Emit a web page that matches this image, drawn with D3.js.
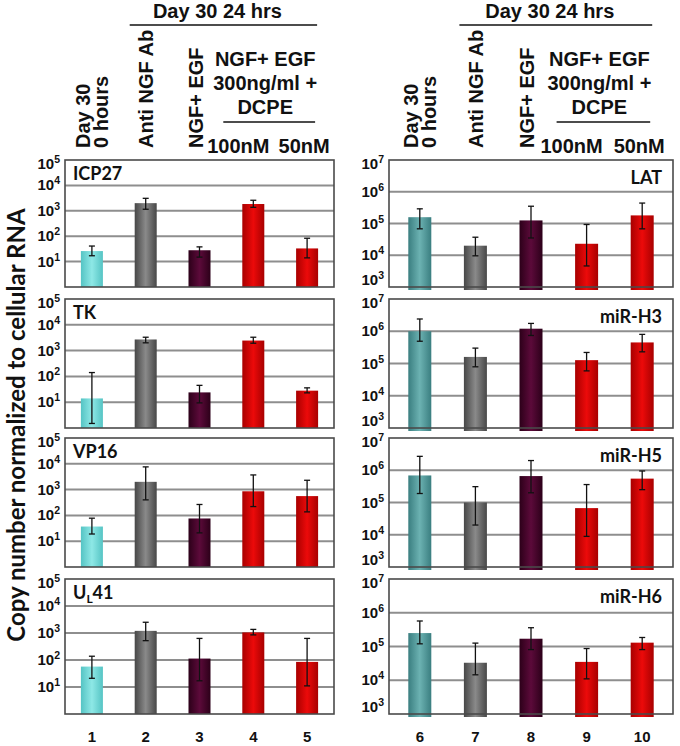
<!DOCTYPE html>
<html>
<head>
<meta charset="utf-8">
<script src="https://cdn.jsdelivr.net/npm/d3@7"></script>
<style>
  body { margin: 0; background: #fff; }
  svg { display: block; }
</style>
</head>
<body>
<svg id="chart" width="680" height="746"></svg>
<script>
// lanes and ticks
const lanesLeft = ['1', '2', '3', '4', '5'];
const lanesRight = ['6', '7', '8', '9', '10'];
const ticksLeft = [1e1, 1e2, 1e3, 1e4, 1e5];
const ticksRight = [1e3, 1e4, 1e5, 1e6, 1e7];

// lytic genes (left column)
const icp27 = [26, 2000, 28, 1850, 33];
const icp27Lo = [17, 1150, 15, 1370, 14];
const icp27Hi = [41, 3100, 38, 2600, 83];
const tk = [14, 2700, 24, 2450, 28];
const tkLo = [1.5, 2000, 9.4, 1930, 23];
const tkHi = [141, 3300, 45, 3300, 36];
const vp16 = [37, 2000, 76, 860, 560];
const vp16Lo = [19, 400, 21, 220, 137];
const vp16Hi = [78, 7600, 265, 3700, 2300];
const ul41 = [57, 1200, 113, 1050, 85];
const ul41Lo = [21, 520, 17, 850, 11];
const ul41Hi = [138, 2500, 630, 1360, 630];

// LAT and miRNAs (right column)
const lat = [1.58e5, 2.0e4, 1.25e5, 2.3e4, 1.8e5];
const latLo = [6.8e4, 9.6e3, 3.5e4, 4.6e3, 6.8e4];
const latHi = [2.9e5, 3.7e4, 3.5e5, 9.3e4, 4.4e5];
const mirH3 = [1.0e6, 1.6e5, 1.2e6, 1.27e5, 4.5e5];
const mirH3Lo = [4.9e5, 7.9e4, 7.4e5, 5.9e4, 2.3e5];
const mirH3Hi = [2.4e6, 3.0e5, 1.75e6, 2.2e5, 8.0e5];
const mirH5 = [6.9e5, 1.0e5, 6.6e5, 6.7e4, 5.5e5];
const mirH5Lo = [1.9e5, 2.0e4, 2.0e5, 8.9e3, 2.5e5];
const mirH5Hi = [2.7e6, 3.1e5, 2.0e6, 3.6e5, 9.5e5];
const mirH6 = [2.5e5, 3.3e4, 1.7e5, 3.5e4, 1.3e5];
const mirH6Lo = [1.2e5, 1.45e4, 8.1e4, 1.1e4, 8.1e4];
const mirH6Hi = [5.7e5, 1.26e5, 3.6e5, 8.7e4, 1.85e5];

const leftPanels = [
  {name: 'ICP27', v: icp27, lo: icp27Lo, hi: icp27Hi},
  {name: 'TK', v: tk, lo: tkLo, hi: tkHi},
  {name: 'VP16', v: vp16, lo: vp16Lo, hi: vp16Hi},
  {name: 'UL41', v: ul41, lo: ul41Lo, hi: ul41Hi}
];
const rightPanels = [
  {name: 'LAT', v: lat, lo: latLo, hi: latHi},
  {name: 'miR-H3', v: mirH3, lo: mirH3Lo, hi: mirH3Hi},
  {name: 'miR-H5', v: mirH5, lo: mirH5Lo, hi: mirH5Hi},
  {name: 'miR-H6', v: mirH6, lo: mirH6Lo, hi: mirH6Hi}
];

const rowTop = [160, 299, 438, 579];
const rowBot = [287, 428, 567, 714];
const arial = 'Liberation Sans, Arial, sans-serif';
const calibri = 'Lato, Open Sans, sans-serif';

const svg = d3.select('#chart');
const defs = svg.append('defs');

// bar fills: dark edges, light middle
const fills = {
  cyan: ['#55c4c4', '#8ee8e6'],
  teal: ['#3a7e80', '#6cb2b2'],
  gray: ['#474747', '#8a8a8a'],
  maroon: ['#2c0019', '#5c0a3a'],
  red: ['#a80000', '#ec0a0a']
};
Object.keys(fills).forEach(k => {
  const g = defs.append('linearGradient').attr('id', 'g-' + k)
    .attr('x1', '0%').attr('x2', '100%').attr('y1', '0%').attr('y2', '0%');
  g.append('stop').attr('offset', '0%').attr('stop-color', fills[k][0]);
  g.append('stop').attr('offset', '50%').attr('stop-color', fills[k][1]);
  g.append('stop').attr('offset', '100%').attr('stop-color', fills[k][0]);
});
const colorsLeft = ['cyan', 'gray', 'maroon', 'red', 'red'];
const colorsRight = ['teal', 'gray', 'maroon', 'red', 'red'];

const sides = [
  {panels: leftPanels, lanes: lanesLeft, ticks: ticksLeft, domain: [1, 1e5],
   box: [65, 334], range: [65, 334], colors: colorsLeft, barW: 22, overhang: 0, labelLeft: true},
  {panels: rightPanels, lanes: lanesRight, ticks: ticksRight, domain: [1e3, 1e7],
   box: [389, 673], range: [392, 670], colors: colorsRight, barW: 23, overhang: 3, labelLeft: false}
];

sides.forEach(side => {
  const x = d3.scalePoint().domain(side.lanes).range(side.range).padding(0.5);

  side.panels.forEach((p, r) => {
    const y = d3.scaleLog().domain(side.domain).range([rowBot[r], rowTop[r]]);
    const g = svg.append('g');
    const [x0, x1] = side.box;

    g.append('rect')
      .attr('x', x0).attr('y', rowTop[r])
      .attr('width', x1 - x0).attr('height', rowBot[r] - rowTop[r])
      .attr('fill', '#fff');

    // grid lines
    g.selectAll('.grid')
      .data(side.ticks.filter(t => t > side.domain[0] && t < side.domain[1]))
      .enter().append('line')
      .attr('x1', x0).attr('x2', x1)
      .attr('y1', d => y(d)).attr('y2', d => y(d))
      .attr('stroke', '#8e8e8e').attr('stroke-width', 2);

    // tick labels 10^n, kept inside the panel height
    const tl = g.selectAll('.tick')
      .data(side.ticks)
      .enter().append('text')
      .attr('x', x0 - 5)
      .attr('y', d => Math.min(Math.max(y(d), rowTop[r] + 4), rowBot[r] - 7) + 5)
      .attr('text-anchor', 'end')
      .attr('font-family', arial).attr('font-weight', 'bold')
      .attr('font-size', 15).attr('fill', '#111');
    tl.append('tspan').text('10');
    tl.append('tspan').attr('dy', -6).attr('font-size', 10.5)
      .text(d => Math.round(Math.log10(d)));

    // bars
    const rows = side.lanes.map((l, i) => ({lane: l, v: p.v[i], lo: p.lo[i], hi: p.hi[i], c: side.colors[i]}));
    g.selectAll('.bar')
      .data(rows)
      .enter().append('rect')
      .attr('x', d => x(d.lane) - side.barW / 2)
      .attr('y', d => y(d.v))
      .attr('width', side.barW)
      .attr('height', d => rowBot[r] - y(d.v) + side.overhang)
      .attr('fill', d => 'url(#g-' + d.c + ')');

    // error bars
    const eb = g.selectAll('.err').data(rows).enter().append('g')
      .attr('stroke', '#111').attr('stroke-width', 1.3);
    eb.append('line')
      .attr('x1', d => x(d.lane)).attr('x2', d => x(d.lane))
      .attr('y1', d => y(d.hi)).attr('y2', d => y(d.lo));
    eb.append('line')
      .attr('x1', d => x(d.lane) - 3).attr('x2', d => x(d.lane) + 3)
      .attr('y1', d => y(d.hi)).attr('y2', d => y(d.hi));
    eb.append('line')
      .attr('x1', d => x(d.lane) - 3).attr('x2', d => x(d.lane) + 3)
      .attr('y1', d => y(d.lo)).attr('y2', d => y(d.lo));

    g.append('rect')
      .attr('x', x0).attr('y', rowTop[r])
      .attr('width', x1 - x0).attr('height', rowBot[r] - rowTop[r])
      .attr('fill', 'none').attr('stroke', '#4a4a4a').attr('stroke-width', 1.6);

    // panel name
    const lab = g.append('text')
      .attr('font-family', calibri).attr('font-weight', 'bold')
      .attr('font-size', 18).attr('fill', '#111');
    if (side.labelLeft) {
      lab.attr('x', x0 + 8).attr('y', rowTop[r] + 20);
    } else {
      lab.attr('x', x1 - 11).attr('y', rowTop[r] + 24).attr('text-anchor', 'end');
    }
    if (p.name === 'UL41') {
      lab.append('tspan').text('U');
      lab.append('tspan').attr('font-size', 12).attr('dy', 4).text('L');
      lab.append('tspan').attr('dy', -4).text('41');
    } else {
      lab.text(p.name);
    }
  });

  // lane numbers
  svg.append('g').selectAll('text')
    .data(side.lanes)
    .enter().append('text')
    .attr('x', d => x(d)).attr('y', 742)
    .attr('text-anchor', 'middle')
    .attr('font-family', arial).attr('font-weight', 'bold')
    .attr('font-size', 15).attr('fill', '#111')
    .text(d => d);

  // header
  const L = side.lanes;
  const h = svg.append('g')
    .attr('font-family', arial).attr('font-weight', 'bold').attr('fill', '#111');
  const lineX0 = x(L[1]) - 16, lineX1 = x(L[4]) + 10;
  h.append('text').attr('x', (lineX0 + lineX1) / 2 - 6).attr('y', 18)
    .attr('text-anchor', 'middle').attr('font-size', 20).text('Day 30 24 hrs');
  h.append('line').attr('x1', lineX0).attr('x2', lineX1).attr('y1', 25).attr('y2', 25)
    .attr('stroke', '#111').attr('stroke-width', 1.6);

  const rot = (cx, txt) => h.append('text')
    .attr('transform', `translate(${cx},148) rotate(-90)`)
    .attr('font-size', 20).attr('dy', '0.36em').text(txt);
  rot(x(L[0]) - 9, 'Day 30');
  rot(x(L[0]) + 9, '0 hours');
  rot(x(L[1]), 'Anti NGF Ab');
  rot(x(L[2]) - 4, 'NGF+ EGF');

  const mid = (x(L[3]) + x(L[4])) / 2 - 15;
  h.append('text').attr('x', mid).attr('y', 66).attr('text-anchor', 'middle')
    .attr('font-size', 20).text('NGF+ EGF');
  h.append('text').attr('x', mid).attr('y', 90).attr('text-anchor', 'middle')
    .attr('font-size', 20).text('300ng/ml +');
  h.append('text').attr('x', mid).attr('y', 114).attr('text-anchor', 'middle')
    .attr('font-size', 20).text('DCPE');
  h.append('line').attr('x1', x(L[3]) - 30).attr('x2', x(L[4]) + 8)
    .attr('y1', 122).attr('y2', 122).attr('stroke', '#111').attr('stroke-width', 1.6);
  h.append('text').attr('x', x(L[3]) - 15).attr('y', 153).attr('text-anchor', 'middle')
    .attr('font-size', 20).text('100nM');
  h.append('text').attr('x', x(L[4]) - 3).attr('y', 153).attr('text-anchor', 'middle')
    .attr('font-size', 20).text('50nM');
});

// shared y title
svg.append('text')
  .attr('transform', 'translate(25,425) rotate(-90)')
  .attr('text-anchor', 'middle')
  .attr('font-family', calibri).attr('font-weight', 'bold')
  .attr('font-size', 24).attr('fill', '#111')
  .text('Copy number normalized to cellular RNA');
</script>
</body>
</html>
